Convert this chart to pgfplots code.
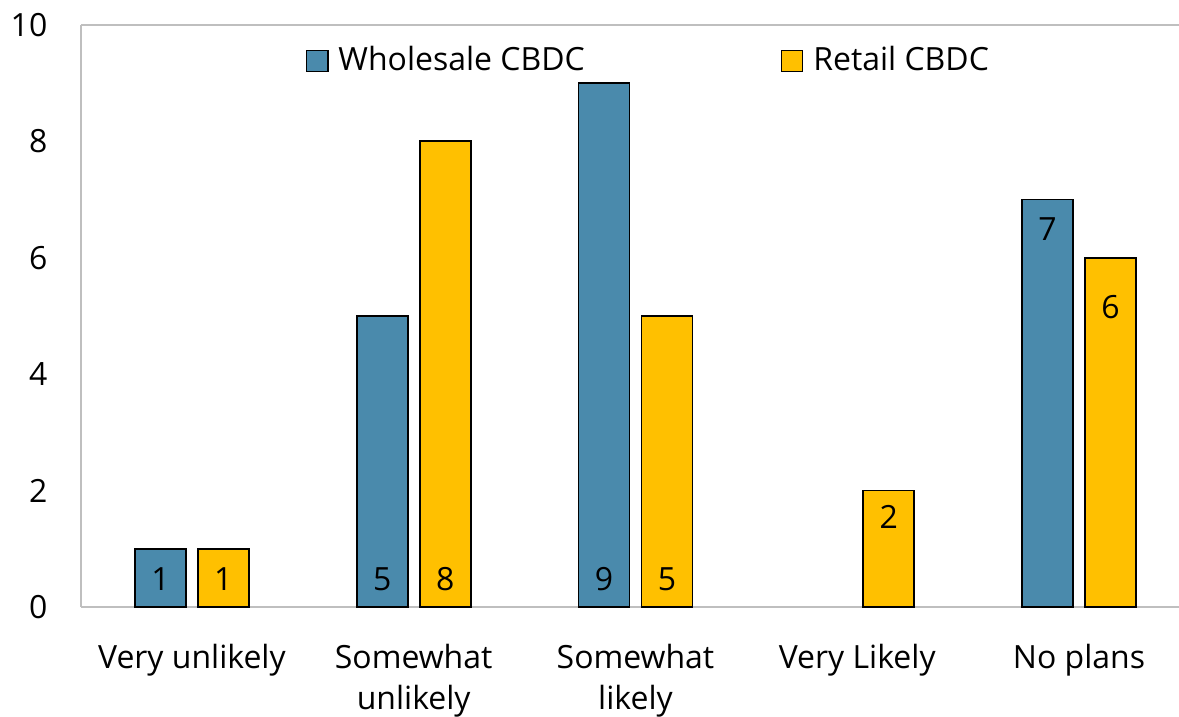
\documentclass[border=0pt]{standalone}
\usepackage{pgfplots}
\usepackage{pgfplotstable}
\pgfplotsset{compat=1.18}
\usepackage{fontspec}
\setmainfont{Open Sans}
\definecolor{wblue}{RGB}{74,138,172}
\definecolor{ryellow}{RGB}{255,192,0}
\definecolor{lgray}{RGB}{191,191,191}
\pgfplotstableread{
x y lab
0 1 0.48
1 5 0.48
2 9 0.48
4 7 6.49
}\wholesale
\pgfplotstableread{
x y lab
0 1 0.48
1 8 0.48
2 5 0.48
3 2 1.55
4 6 5.16
}\retail
\begin{document}
\begin{tikzpicture}[font=\fontsize{9.1}{11.7}\selectfont]
\useasboundingbox (-8.1mm,-11.0mm) rectangle (109.8mm,60.7mm);
\begin{axis}[
  at={(0,0)}, anchor=south west,
  scale only axis, width=109.8mm, height=58.2mm,
  xmin=-0.5, xmax=4.451, ymin=0, ymax=10,
  ytick={0,2,...,10},
  xtick={0,1,2,3,4},
  xticklabels={Very unlikely,Somewhat\\unlikely,Somewhat\\likely,Very Likely,No plans},
  major tick length=0pt,
  axis x line*=bottom, axis y line*=left,
  axis line style={draw=lgray, line width=0.2mm, -},
  yticklabel style={anchor=east, inner sep=0pt, xshift=-3.3mm},
  xticklabel style={anchor=north, inner sep=0pt, yshift=-3.6mm, align=center, font=\fontsize{9.1}{11.7}\selectfont},
  /pgf/number format/assume math mode=true,
  ybar, bar width=0.23,
  legend style={at={(0.204,0.938)}, anchor=west, draw=none, fill=none, inner sep=0pt,
    nodes={inner sep=0pt}, column sep=0pt, legend columns=2, font=\fontsize{9.1}{11.7}\selectfont},
  nodes near coords,
  every node near coord/.append style={anchor=center, inner sep=0pt, yshift=-\dy mm, font=\fontsize{9.1}{11.7}\selectfont, text=black},
  visualization depends on={5.82*(\thisrow{y}-\thisrow{lab}) \as \dy},
  clip=false,
]
\addplot[fill=wblue, draw=black, line width=0.18mm, bar shift=-0.142,
  legend image code/.code={\draw[fill=wblue, draw=black, line width=0.18mm] (0mm,-1.05mm) rectangle (2.1mm,1.05mm);}]
  table[x=x,y=y] {\wholesale};
\addlegendentry{\hspace{1mm}\makebox[44.2mm][l]{Wholesale CBDC}}
\addplot[fill=ryellow, draw=black, line width=0.18mm, bar shift=0.142,
  legend image code/.code={\draw[fill=ryellow, draw=black, line width=0.18mm] (0mm,-1.05mm) rectangle (2.1mm,1.05mm);}]
  table[x=x,y=y] {\retail};
\addlegendentry{\hspace{1mm}Retail CBDC}
\draw[lgray, line width=0.2mm] (rel axis cs:0,1) -- (rel axis cs:1,1);
\end{axis}
\end{tikzpicture}
\end{document}
